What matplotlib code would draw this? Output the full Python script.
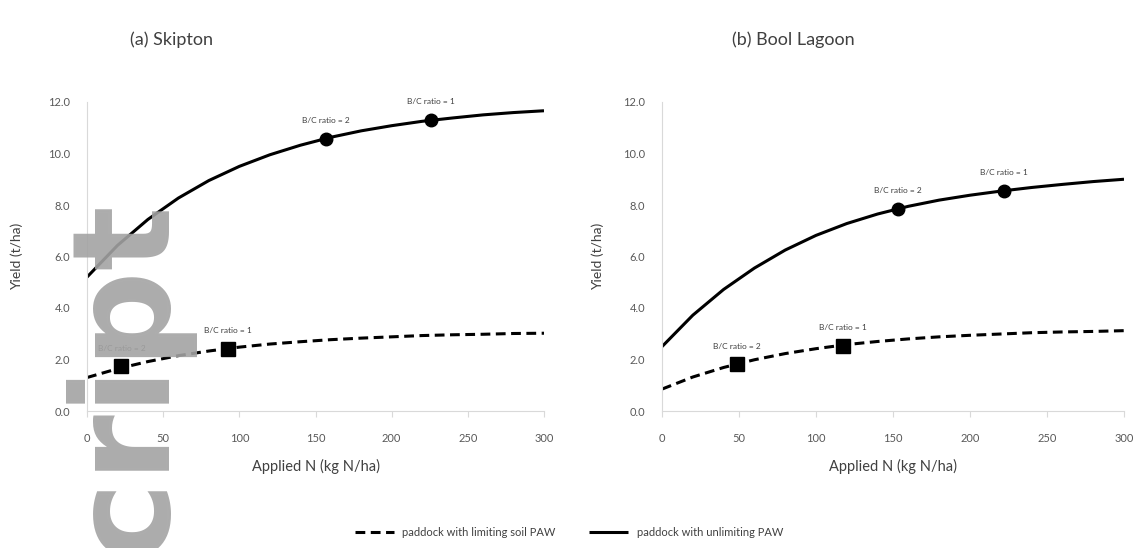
import matplotlib
matplotlib.use('Agg')
import matplotlib.pyplot as plt

# Applied N (kg N/ha) grid
n_rate = [0, 20, 40, 60, 80, 100, 120, 140, 160, 180, 200, 220, 240, 260, 280, 300]

# (a) Skipton yields (t/ha)
skip_unlim = [5.20, 6.43, 7.44, 8.27, 8.95, 9.50, 9.95, 10.32, 10.63, 10.88, 11.08, 11.25, 11.38, 11.50, 11.59, 11.66]
skip_lim = [1.30, 1.64, 1.92, 2.15, 2.33, 2.48, 2.60, 2.69, 2.77, 2.83, 2.88, 2.93, 2.96, 2.98, 3.01, 3.02]
skip_circ_n = [156.7, 226]
skip_circ_y = [10.58, 11.30]
skip_sq_n = [22.6, 92.5]
skip_sq_y = [1.73, 2.42]

# (b) Bool Lagoon yields (t/ha)
bool_unlim = [2.50, 3.72, 4.72, 5.55, 6.25, 6.82, 7.28, 7.65, 7.95, 8.19, 8.38, 8.54, 8.68, 8.80, 8.91, 9.00]
bool_lim = [0.85, 1.32, 1.69, 1.99, 2.23, 2.42, 2.58, 2.70, 2.80, 2.88, 2.94, 2.99, 3.04, 3.07, 3.09, 3.12]
bool_circ_n = [153, 222]
bool_circ_y = [7.85, 8.55]
bool_sq_n = [48.8, 117.6]
bool_sq_y = [1.82, 2.53]

point_labels = ['B/C ratio = 2', 'B/C ratio = 1']
titles = ['(a) Skipton', '(b) Bool Lagoon']
xticks = [0, 50, 100, 150, 200, 250, 300]
yticks = [0, 2, 4, 6, 8, 10, 12]

W, H = 1138, 548
fig = plt.figure(figsize=(W / 100, H / 100), dpi=100)
plt.rcParams['font.family'] = ['Lato', 'DejaVu Sans']

axes_px = [(87, 544), (662, 1124)]
ylab_x = [-0.14, -0.125]
top, bottom = 102, 411

panels = [
    (skip_unlim, skip_lim, skip_circ_n, skip_circ_y, skip_sq_n, skip_sq_y),
    (bool_unlim, bool_lim, bool_circ_n, bool_circ_y, bool_sq_n, bool_sq_y),
]

dash = (0, (3.2, 1.8))
for i, (x0, x1) in enumerate(axes_px):
    ax = fig.add_axes([x0 / W, (H - bottom) / H, (x1 - x0) / W, (bottom - top) / H])
    unlim, lim, cn, cy, sn, sy = panels[i]
    ax.plot(n_rate, unlim, color='black', lw=2.2, solid_capstyle='butt',
            label='paddock with unlimiting PAW')
    ax.plot(n_rate, lim, color='black', lw=2.2, linestyle=dash,
            label='paddock with limiting soil PAW')
    ax.plot(cn, cy, 'o', color='black', ms=9, linestyle='none')
    ax.plot(sn, sy, 's', color='black', ms=10, linestyle='none')
    for k in range(2):
        ax.annotate(point_labels[k], (cn[k], cy[k]), xytext=(0, 13), textcoords='offset points',
                    ha='center', va='center', fontsize=6, color='#404040')
        ax.annotate(point_labels[k], (sn[k], sy[k]), xytext=(0, 13), textcoords='offset points',
                    ha='center', va='center', fontsize=6, color='#404040')

    ax.set_xlim(0, 300)
    ax.set_ylim(0, 12)
    ax.set_xticks(xticks)
    ax.set_yticks(yticks)
    ax.set_yticklabels([f'{v:.1f}' for v in yticks])
    for s in ['top', 'right']:
        ax.spines[s].set_visible(False)
    for s in ['left', 'bottom']:
        ax.spines[s].set_color('#d9d9d9')
        ax.spines[s].set_linewidth(0.8)
    ax.tick_params(axis='y', length=0, pad=12, labelsize=8, labelcolor='#595959')
    ax.tick_params(axis='x', length=4, color='#d9d9d9', pad=12, labelsize=8, labelcolor='#595959')
    ax.set_xlabel('Applied N (kg N/ha)', fontsize=10.5, color='#404040')
    ax.xaxis.set_label_coords(0.5, -0.155)
    ax.set_ylabel('Yield (t/ha)', fontsize=10, color='#404040')
    ax.yaxis.set_label_coords(ylab_x[i], 0.5)
    ax.patch.set_alpha(0)
    if i == 0:
        handles, labels = ax.get_legend_handles_labels()

# titles sit left of the axes centres in the original
fig.text(172 / W, 1 - 40 / H, titles[0], ha='center', va='center', fontsize=13, color='#404040')
fig.text(793 / W, 1 - 40 / H, titles[1], ha='center', va='center', fontsize=13, color='#404040')

fig.legend([handles[1], handles[0]], [labels[1], labels[0]], loc='center',
           bbox_to_anchor=(0.5, 1 - 532 / H), ncol=2, frameon=False, fontsize=8,
           handlelength=3.5, columnspacing=3, labelcolor='#404040')

# watermark from the source page
fig.text(120 / W, 1 - 192 / H, 'Manuscript', rotation=90, ha='center', va='top',
         fontsize=98, fontweight='bold', family='DejaVu Sans', color='#a3a3a3', alpha=0.9)

fig.savefig('out.png', dpi=100)
